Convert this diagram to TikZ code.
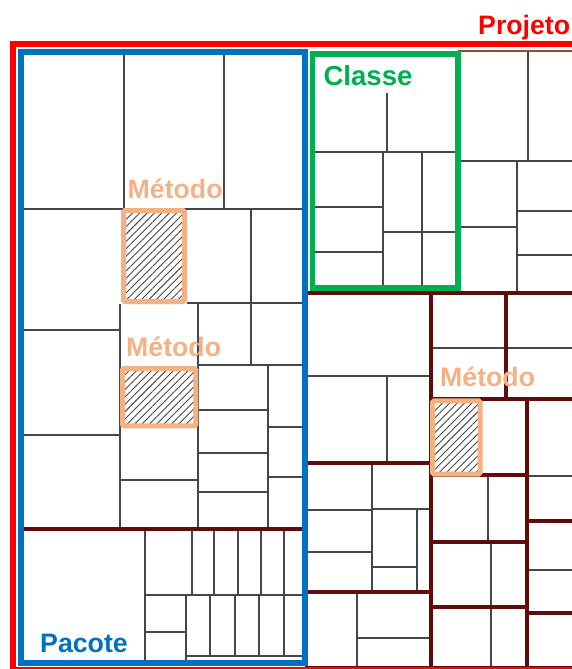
\documentclass[tikz,border=0pt]{standalone}
\usepackage{fontspec}
\setmainfont{Liberation Sans}
\usetikzlibrary{patterns.meta}
\definecolor{prjred}{RGB}{255,0,0}
\definecolor{pkgblue}{RGB}{0,112,192}
\definecolor{clsgreen}{RGB}{0,176,80}
\definecolor{mthorange}{RGB}{244,177,131}
\definecolor{divred}{RGB}{96,12,12}
\definecolor{topbrown}{RGB}{130,80,50}
\definecolor{cellgray}{RGB}{70,70,70}
\begin{document}
\begin{tikzpicture}[x=1pt,y=-1pt,
  cell/.style={draw=cellgray,line width=1.3pt},
  divline/.style={draw=divred,line width=3.5pt},
  methodbox/.style={draw=mthorange,line width=5pt,rounded corners=1.5pt,
    preaction={fill=white},
    pattern={Lines[angle=45,distance=5.2pt,line width=0.9pt]},pattern color=cellgray},
  lbl/.style={font=\fontsize{26.7}{28}\selectfont\bfseries,inner sep=0pt,anchor=base west}]
\useasboundingbox (0,0) rectangle (572,669);
\clip (0,0) rectangle (572,669);

% ---------- Pacote: upper part ----------
\draw[cell] (124,52)--(124,209);
\draw[cell] (224,52)--(224,209);
\draw[cell] (20,209)--(305,209);
\draw[cell] (251,209)--(251,365);
\draw[cell] (187,303)--(305,303);
\draw[cell] (20,330)--(120,330);
\draw[cell] (120,304)--(120,529);
\draw[cell] (198,303)--(198,529);
\draw[cell] (198,365)--(305,365);
\draw[cell] (20,435)--(120,435);
\draw[cell] (120,480)--(198,480);
\draw[cell] (268,365)--(268,529);
\foreach \yy in {410,453,492} \draw[cell] (198,\yy)--(268,\yy);
\foreach \yy in {427,477} \draw[cell] (268,\yy)--(305,\yy);

% ---------- Pacote: lower part ----------
\draw[cell] (145,529)--(145,663);
\draw[cell] (145,595)--(305,595);
\foreach \xx in {192,214,238,261,284} \draw[cell] (\xx,529)--(\xx,595);
\draw[cell] (145,632)--(186,632);
\draw[cell] (186,595)--(186,663);
\draw[cell] (186,656)--(305,656);
\foreach \xx in {210,235,259,284} \draw[cell] (\xx,595)--(\xx,656);
\draw[divline] (20,529)--(305,529);

% ---------- Classe ----------
\draw[cell] (387,54)--(387,152);
\draw[cell] (312,152)--(458,152);
\draw[cell] (383,152)--(383,288);
\draw[cell] (422,152)--(422,288);
\draw[cell] (312,207)--(383,207);
\draw[cell] (312,252)--(383,252);
\draw[cell] (383,232)--(458,232);

% ---------- right of Classe ----------
\draw[cell] (528,51)--(528,161);
\draw[cell] (458,161)--(572,161);
\draw[cell] (517,161)--(517,293);
\draw[cell] (458,227)--(517,227);
\draw[cell] (517,211)--(572,211);
\draw[cell] (517,255)--(572,255);
\draw[draw=topbrown,line width=2.5pt] (458,51)--(572,51);

% ---------- lower right region ----------
\draw[cell] (305,376)--(431,376);
\draw[cell] (387,376)--(387,463);
\draw[cell] (372,463)--(372,592);
\draw[cell] (305,510)--(372,510);
\draw[cell] (305,552)--(372,552);
\draw[cell] (372,509)--(431,509);
\draw[cell] (417,509)--(417,592);
\draw[cell] (372,567)--(417,567);
\draw[cell] (357,592)--(357,669);
\draw[cell] (357,638)--(431,638);
\draw[cell] (431,348)--(572,348);
\draw[cell] (488,475)--(488,542);
\draw[cell] (491,542)--(491,669);
\draw[cell] (527,476)--(572,476);
\draw[cell] (527,570)--(572,570);

\draw[divline] (305,293)--(572,293);
\draw[divline] (431,293)--(431,669);
\draw[divline] (305,463)--(431,463);
\draw[divline] (305,592)--(431,592);
\draw[divline] (506,293)--(506,399);
\draw[divline] (431,399)--(572,399);
\draw[divline] (527,399)--(527,669);
\draw[divline] (431,475)--(527,475);
\draw[divline] (431,542)--(527,542);
\draw[divline] (431,607)--(527,607);
\draw[divline] (527,521)--(572,521);
\draw[divline] (527,613)--(572,613);
\draw[divline] (305,667.5)--(572,667.5);

% ---------- frames ----------
\draw[draw=prjred,line width=6pt] (13,44) rectangle (600,670);
\draw[draw=pkgblue,line width=6pt] (21,52) rectangle (305,663);
\draw[draw=clsgreen,line width=5.5pt] (312.5,54) rectangle (458,288);

% ---------- methods ----------
\draw[methodbox] (123.5,210.5) rectangle (184.5,301.5);
\draw[methodbox] (122.5,368.5) rectangle (195.8,425.8);
\draw[methodbox] (432.5,400.8) rectangle (480.2,474.2);

% ---------- labels ----------
\node[lbl,text=prjred] (projeto) at (478,35) {Projeto};
\node[lbl,text=clsgreen,fill=white,inner xsep=2pt,inner ysep=8pt,font=\fontsize{27.6}{28}\selectfont\bfseries] (classe) at (321.3,85) {Classe};
\node[lbl,text=pkgblue] (pacote) at (40,652) {Pacote};
\node[lbl,text=mthorange] (metodoA) at (127.5,198) {Método};
\node[lbl,text=mthorange] (metodoB) at (126,356.5) {Método};
\node[lbl,text=mthorange] (metodoC) at (440,386.5) {Método};
\end{tikzpicture}
\end{document}
